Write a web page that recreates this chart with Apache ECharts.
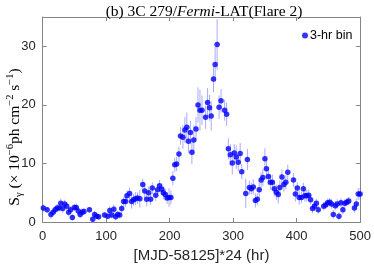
<!DOCTYPE html>
<html><head><meta charset="utf-8">
<script src="https://cdn.jsdelivr.net/npm/echarts@6/dist/echarts.min.js"></script>
<style>html,body{margin:0;padding:0;background:#fff}#c{width:374px;height:268px}</style>
</head><body><div id="c"></div>
<script>
var hours = [1,7,13,16.5,19.6,22.7,25.8,28.5,31.6,34.7,37.8,40.9,44,46.7,49.8,52.9,56,59,62,65,73.6,78.8,81.8,85,88,97.4,102.6,105.7,108.8,112,115,118,121.3,124.4,127.5,130.6,132.7,136.8,140,143,146,149.3,153,157.6,160.7,163.8,166.9,170,172.6,178,181,184,187.6,190,193,196,199,202,205,208,211,214.6,217,220.8,224,227,229.5,232.7,235,238,241.5,244.6,247.7,250.9,256.6,259.7,262.8,265.4,269,271.6,274.7,277.8,280.9,286.6,289.7,292.4,295.5,298.6,301.7,304.8,308,311,313.5,319.8,322.4,325.5,328.6,331.7,335,338,341,344,346.8,350,352.4,355.5,358.6,361.7,364.8,368,371,373.6,376.8,379.9,383,386,395,398,401,404,407.5,410.6,413,416,419,422,425,428,431,434,442.6,445.7,448.8,452,455,457.7,460.8,464,466.6,469.7,472.8,476,479,482,491,494,497,500];
var flux = [2.4,2.1,1.3,1.7,2.1,2.4,2.4,3.2,2.3,3.1,2.7,1.7,2.1,0.8,2.5,2.5,1.9,1.3,1.7,1.8,2.1,0.5,1.3,1.0,0.9,1.2,1.0,2.0,1.2,2.2,0.9,1.3,1.2,2.3,3.5,3.5,4.5,4.9,3.5,3.8,4.0,4.1,4.0,6.4,5.3,3.9,5.0,3.9,5.8,4.6,5.5,6.2,5.6,5.0,4.7,4.1,4.2,4.2,7.5,9.8,9.9,11.6,14.7,14.5,15.7,16.2,13.8,15.3,11.9,14.0,15.9,20.0,19.1,19.1,17.9,20.4,19.5,18.1,24.4,26.9,30.3,19.6,20.7,19.1,18.4,12.5,11.5,10.1,11.8,11.1,10.2,11.7,8.6,4.9,10.7,5.9,5.7,6.0,3.7,3.9,5.5,7.2,7.6,10.8,9.1,7.8,6.8,6.8,5.7,5.1,4.7,5.9,7.7,6.4,6.8,8.5,7.2,4.8,5.8,4.2,4.2,5.7,4.5,4.5,4.6,3.8,2.3,2.7,3.2,2.1,2.7,2.9,3.3,3.4,3.1,1.3,2.8,3.1,1.0,3.3,2.1,3.2,3.4,3.6,2.4,3.1,4.8,4.8];
var fluxErr = [0.6,0.5,0.7,0.6,0.6,0.7,0.6,0.8,0.7,0.7,0.6,0.7,0.6,0.5,0.6,0.7,0.6,0.6,0.6,0.6,0.5,0.5,0.6,0.5,0.5,0.5,0.5,0.7,0.6,0.8,0.6,0.6,0.6,0.7,0.8,0.9,0.9,1.0,1.2,1.0,1.1,1.0,1.5,1.0,1.3,1.2,1.0,1.0,1.0,1.0,1.0,1.0,1.0,1.1,1.0,1.0,1.6,1.2,1.2,1.2,1.2,1.3,1.5,2.0,2.2,2.5,2.0,2.0,2.0,2.5,2.0,3.0,3.5,2.5,2.0,2.5,2.2,2.5,2.2,3.0,4.3,2.0,2.0,1.8,2.0,1.8,1.8,2.0,1.5,2.0,1.5,1.8,1.3,2.5,1.8,1.2,1.0,1.3,1.2,1.0,1.3,1.3,1.5,1.8,1.8,1.5,1.3,1.3,1.3,1.3,1.5,1.2,1.3,1.2,1.2,1.3,1.2,1.3,1.0,1.2,1.0,1.0,1.0,1.0,1.0,0.8,0.8,0.8,0.8,0.7,0.7,0.7,0.7,0.7,0.8,0.7,0.8,0.8,0.7,0.8,0.8,0.7,0.7,0.7,0.8,0.9,1.0,1.0];
var xTicks = [0,100,200,300,400,500];
var yTicks = [0,10,20,30];

var pts = hours.map(function(h,i){return [h, flux[i]];});
var errs = hours.map(function(h,i){return [h, flux[i], fluxErr[i]];});
var axColor = '#858585', lblColor = '#262626';
var chart = echarts.init(document.getElementById('c'), null, {renderer:'canvas'});
function axisCommon(pos, showLabel){
  return {
    axisLine:{show:true, onZero:false, lineStyle:{color:axColor, width:1}},
    axisTick:{show:true, inside:true, length:4, lineStyle:{color:axColor}},
    splitLine:{show:false},
    axisLabel:{show:showLabel, color:lblColor, fontFamily:'Liberation Sans', fontSize:13, showMaxLabel: pos==='x'}
  };
}
var xb = Object.assign({type:'value', position:'bottom', min:xTicks[0], max:xTicks[xTicks.length-1], interval:100,
  name:'[MJD-58125]*24 (hr)', nameLocation:'middle', nameGap:24,
  nameTextStyle:{color:lblColor, fontFamily:'Liberation Sans', fontSize:15}}, axisCommon('x', true));
xb.axisLabel.margin = 8;
var xt = Object.assign({type:'value', position:'top', min:xTicks[0], max:xTicks[xTicks.length-1], interval:100}, axisCommon('x', false));
var yl = Object.assign({type:'value', position:'left', min:yTicks[0], max:35, interval:10}, axisCommon('y', true));
yl.axisLabel.margin = 7;
var yr = Object.assign({type:'value', position:'right', min:yTicks[0], max:35, interval:10}, axisCommon('y', false));

chart.setOption({
  animation:false,
  backgroundColor:'#fff',
  grid:{left:42.7, right:9.7, top:17, bottom:41, containLabel:false},
  title:{
    text:'{n|(b) 3C 279/}{i|Fermi}{n|-LAT(Flare 2)}',
    left:199, top:-1, textAlign:'center',
    textStyle:{fontWeight:'normal', rich:{
      n:{fontFamily:'Liberation Serif', fontSize:15.5, fontWeight:'normal', color:'#000'},
      i:{fontFamily:'Liberation Serif', fontSize:15.5, fontWeight:'normal', fontStyle:'italic', color:'#000'}
    }}
  },
  legend:{
    data:[{name:'3-hr bin', icon:'circle'}],
    left:297, top:24, itemWidth:6, itemHeight:6, itemGap:2,
    textStyle:{color:'#000', fontFamily:'Liberation Sans', fontSize:12.5, padding:[0,0,0,-3]}
  },
  graphic:[{
    type:'text', x:15, y:137, rotation:Math.PI/2,
    style:{
      text:'{n|S}{sub|γ}{n| (× 10}{sup|−6}{n|ph cm}{sup|−2}{n| s}{sup|−1}{n|)}',
      align:'center', verticalAlign:'middle',
      rich:{
        n:{fontFamily:'Liberation Serif', fontSize:15.5, lineHeight:20, fill:'#000', verticalAlign:'middle'},
        sup:{fontFamily:'Liberation Serif', fontSize:10.5, lineHeight:10, fill:'#000', verticalAlign:'top'},
        sub:{fontFamily:'Liberation Serif', fontSize:10.5, lineHeight:10, fill:'#000', verticalAlign:'bottom'}
      }
    }
  }],
  xAxis:[xb, xt],
  yAxis:[yl, yr],
  series:[
    {
      type:'custom', name:'err', xAxisIndex:0, yAxisIndex:0, data:errs, z:1,
      renderItem:function(params, api){
        var x = api.value(0), v = api.value(1), e = api.value(2);
        var p1 = api.coord([x, v-e]), p2 = api.coord([x, v+e]);
        return {type:'line', shape:{x1:p1[0], y1:p1[1], x2:p2[0], y2:p2[1]},
          style:{stroke:'rgba(100,100,255,0.55)', lineWidth:1}};
      }
    },
    {
      type:'scatter', name:'3-hr bin', xAxisIndex:0, yAxisIndex:0, data:pts, z:2,
      symbol:'circle', symbolSize:5.5, itemStyle:{color:'#0000ff'}
    }
  ]
});
</script></body></html>
